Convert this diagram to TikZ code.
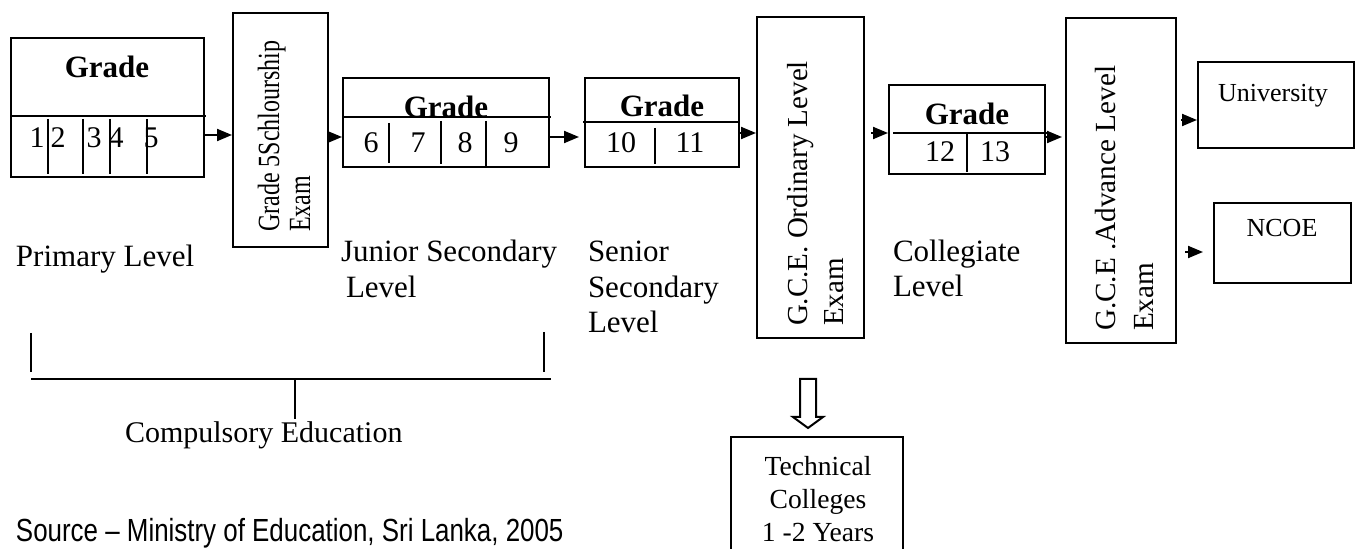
\documentclass[tikz,border=0pt]{standalone}
\usepackage{fontspec}
\setmainfont{Liberation Serif}
\newfontfamily\narrowserif[FakeStretch=0.78]{Liberation Serif}
\newfontfamily\sourcesans[FakeStretch=0.81]{Liberation Sans}
\usetikzlibrary{positioning,fit,arrows.meta}

\begin{document}
\begin{tikzpicture}[
x=0.5pt, y=-0.5pt, line width=1pt,
gradebox/.style={draw, line width=1pt, inner sep=0pt},
grade/.style={font=\fontsize{15.5}{18}\selectfont\bfseries, anchor=base, inner sep=0pt},
num/.style={font=\fontsize{15}{18}\selectfont, anchor=base, inner sep=0pt},
level/.style={font=\fontsize{15.5}{18}\selectfont, anchor=base west, inner sep=0pt},
vtext/.style={rotate=90, anchor=base west, inner sep=0pt, font=\fontsize{14.6}{18}\selectfont},
small/.style={font=\fontsize{13}{16}\selectfont, anchor=base, inner sep=0pt},
arr/.style={-{Triangle[length=7.5pt,width=6pt]}, line width=1pt}
]
\useasboundingbox (0,0) rectangle (1361,549);
\clip (0,0) rectangle (1361,549);

\node[gradebox, fit={(11,38) (204,177)}] (Prim) {};
\draw (11,116) -- (206,116);
\node[grade] (PrimG) at (107,78) {Grade};
\foreach \x in {48,83,110,147} \draw (\x,119) -- (\x,174);
\foreach \n/\x in {1/37,2/58,3/94,4/116,5/151}
  \node[num] (P\n) at (\x,148) {\n};

\node[gradebox, fit={(233,13) (328,247)}] (Exam5) {};
\node[vtext, font=\narrowserif\fontsize{15.4}{18}\selectfont] (Exam5a) at (279,233) {Grade 5Schlourship};
\node[vtext, font=\narrowserif\fontsize{15.4}{18}\selectfont] (Exam5b) at (310,233) {Exam};

\node[gradebox, fit={(343,78) (549,167)}] (Junior) {};
\draw (343,117) -- (551,117);
\node[grade] (JuniorG) at (446,118) {Grade};
\draw (389,123) -- (389,163);
\draw (441,121) -- (441,164);
\draw (486,121) -- (486,167);
\foreach \n/\x in {6/371,7/418,8/465,9/511}
  \node[num] (J\n) at (\x,153) {\n};

\node[gradebox, fit={(585,78) (739,167)}] (Senior) {};
\draw (583,122) -- (739,122);
\node[grade] (SeniorG) at (662,117) {Grade};
\draw (655,128) -- (655,164);
\node[num] (S10) at (621,153) {10};
\node[num] (S11) at (690,153) {11};

\node[gradebox, fit={(757,17) (864,338)}] (OL) {};
\node[vtext, font=\fontsize{14.5}{18}\selectfont] (OLa) at (807,327) {G.C.E. Ordinary Level};
\node[vtext, font=\fontsize{14.5}{18}\selectfont] (OLb) at (843,327) {Exam};

\node[gradebox, fit={(889,85) (1045,174)}] (Coll) {};
\draw (893,133) -- (1049,133);
\node[grade] (CollG) at (967,125) {Grade};
\draw (967,134) -- (967,172);
\node[num] (C12) at (940,162) {12};
\node[num] (C13) at (995,162) {13};

\node[gradebox, fit={(1066,18) (1176,343)}] (AL) {};
\node[vtext] (ALa) at (1115,332) {G.C.E .Advance Level};
\node[vtext] (ALb) at (1153,332) {Exam};

\node[gradebox, fit={(1198,62) (1354,148)}] (Uni) {};
\node[small] (UniT) at (1273,102) {University};
\node[gradebox, fit={(1214,203) (1351,283)}] (NCOE) {};
\node[small] (NCOET) at (1282,237) {NCOE};

\draw (800,379) -- (816,379) -- (816,417) -- (823,417) -- (808,428) -- (793,417) -- (800,417) -- cycle;
\node[gradebox, fit={(731,437) (903,580)}] (Tech) {};
\node[font=\fontsize{13.8}{16.5}\selectfont, align=center] (TechT) at (818,499) {Technical\\Colleges\\1 -2 Years};

\draw[arr] (Prim.east |- 0,135) -- (Exam5.west |- 0,135);
\draw[arr] (Exam5.east |- 0,137) -- (Junior.west |- 0,137);
\draw[arr, shorten >=2.5pt] (Junior.east |- 0,137) -- (Senior.west |- 0,137);
\draw[arr] (Senior.east |- 0,133) -- (OL.west |- 0,133);
\draw[arr, shorten <=3pt] (OL.east |- 0,133) -- (Coll.west |- 0,133);
\draw[arr, shorten >=1.5pt] (Coll.east |- 0,137) -- (AL.west |- 0,137);
\draw[arr, shorten <=2pt] (AL.east |- 0,120) -- (Uni.west |- 0,120);
\draw[arr, shorten <=4pt, shorten >=5pt] (AL.east |- 0,252) -- (NCOE.west |- 0,252);

\node[level] (PrimL) at (15,267) {Primary Level};
\node[level] (JunL1) at (340,262) {Junior Secondary};
\node[level, below=18pt of JunL1.base west, anchor=base west, xshift=2.5pt] (JunL2) {Level};
\node[level] (SenL1) at (587,262) {Senior};
\node[level, below=18pt of SenL1.base west, anchor=base west] (SenL2) {Secondary};
\node[level, below=17.5pt of SenL2.base west, anchor=base west] (SenL3) {Level};
\node[level] (CollL1) at (892,262) {Collegiate};
\node[level, below=17.5pt of CollL1.base west, anchor=base west] (CollL2) {Level};

\draw (31,333) -- (31,372);
\draw (544,332) -- (544,372);
\draw (31,379) -- (551,379);
\draw (295,379) -- (295,419);
\node[font=\fontsize{15}{18}\selectfont, anchor=base west, inner sep=0pt] (Comp) at (124,443) {Compulsory Education};

\node[font=\sourcesans\fontsize{16}{19}\selectfont, anchor=base west, inner sep=0pt] (Src) at (15,542) {Source – Ministry of Education, Sri Lanka, 2005};
\end{tikzpicture}
\end{document}
